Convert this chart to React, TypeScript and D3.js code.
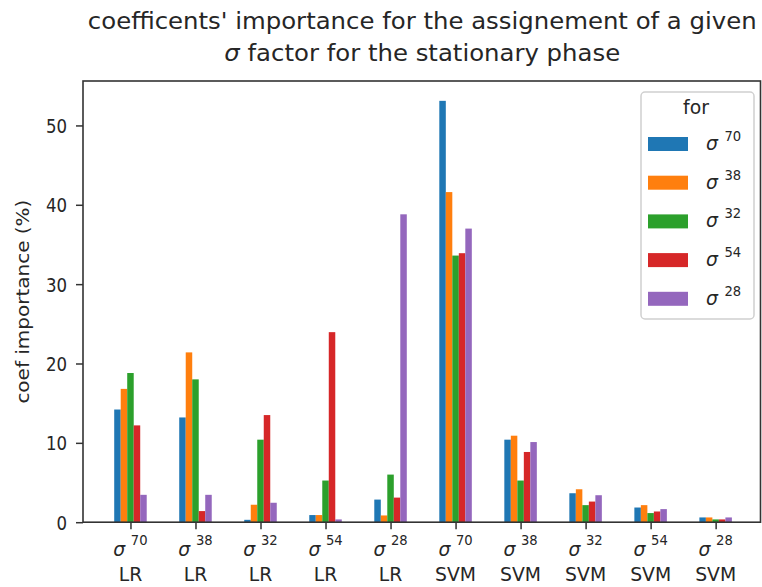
import React, { useEffect, useRef } from 'react';
import * as d3 from 'd3';

const sigmas = ['70', '38', '32', '54', '28'];
const models = ['LR', 'SVM'];
const colors = ['#1f77b4', '#ff7f0e', '#2ca02c', '#d62728', '#9467bd'];

// one array per legend entry, values along the 10 x categories
const s70 = [14.2, 13.2, 0.3, 0.9, 2.85, 53.1, 10.4, 3.65, 1.85, 0.6];
const s38 = [16.8, 21.4, 2.2, 0.9, 0.85, 41.6, 10.9, 4.15, 2.15, 0.6];
const s32 = [18.8, 18.0, 10.4, 5.25, 6.0, 33.6, 5.25, 2.15, 1.15, 0.35];
const s54 = [12.2, 1.4, 13.5, 23.95, 3.1, 33.9, 8.85, 2.6, 1.35, 0.35];
const s28 = [3.45, 3.45, 2.45, 0.35, 38.8, 37.0, 10.1, 3.4, 1.65, 0.6];
const series = [s70, s38, s32, s54, s28];

const yTicks = [0, 10, 20, 30, 40, 50];

const W = 762;
const H = 587;
const SX = 0.85; // tick labels look squeezed horizontally
const SXL = 0.94; // x labels / legend
const SXT = 1.06; // title

const App = () => {
  const ref = useRef(null);

  useEffect(() => {
    if (!ref.current) return;
    d3.select(ref.current).selectAll('*').remove();
    const svg = d3.select(ref.current)
      .append('svg')
      .attr('width', W)
      .attr('height', H)
      .style('position', 'absolute')
      .style('left', 0)
      .style('top', 0)
      .style('font-family', 'DejaVu Sans');

    const left = 83, right = 760.5, top = 81, bottom = 522.2;
    const cats = models.flatMap(m => sigmas.map(s => ({ s, m })));

    const x = d3.scaleLinear().domain([-0.73, 9.69]).range([left, right]);
    const y = d3.scaleLinear().domain([0, 55.6]).range([bottom, top]);
    const bw = x(0.1) - x(0);

    // bars
    series.forEach((vals, si) => {
      svg.append('g')
        .attr('fill', colors[si])
        .selectAll('rect')
        .data(vals)
        .join('rect')
        .attr('x', (d, i) => x(i + (si - 2) * 0.1) - bw / 2)
        .attr('width', bw)
        .attr('y', d => y(d))
        .attr('height', d => y(0) - y(d));
    });

    // y axis
    const yAxis = d3.axisLeft(y).tickValues(yTicks).tickSize(7).tickSizeOuter(0);
    const gy = svg.append('g').attr('transform', `translate(${left},0)`).call(yAxis);
    gy.select('.domain').remove();
    gy.selectAll('line').attr('stroke', '#333').attr('stroke-width', 1.5);
    gy.selectAll('text')
      .attr('x', 0)
      .attr('dy', '0.36em')
      .attr('transform', `translate(-16,0) scale(${SX},1)`)
      .attr('fill', '#262626')
      .style('font-size', '19.5px')
      .style('font-family', 'DejaVu Sans');

    // x axis
    const xAxis = d3.axisBottom(x).tickValues(d3.range(10)).tickSize(7).tickFormat(() => '');
    const gx = svg.append('g').attr('transform', `translate(0,${bottom})`).call(xAxis);
    gx.select('.domain').remove();
    gx.selectAll('line').attr('stroke', '#333').attr('stroke-width', 1.5);

    cats.forEach((c, i) => {
      const g = svg.append('g').attr('transform', `translate(${x(i)},0) scale(${SXL},1)`);
      const t = g.append('text')
        .attr('y', 556)
        .attr('text-anchor', 'middle')
        .attr('fill', '#262626')
        .style('font-size', '20px');
      t.append('tspan').style('font-style', 'italic').text('σ');
      t.append('tspan').attr('dx', 6).attr('dy', -11).style('font-size', '14px').text(c.s);
      g.append('text')
        .attr('y', 581.5)
        .attr('text-anchor', 'middle')
        .attr('fill', '#262626')
        .style('font-size', '20px')
        .text(c.m);
    });

    // frame
    svg.append('rect')
      .attr('x', left)
      .attr('y', top)
      .attr('width', right - left)
      .attr('height', bottom - top)
      .attr('fill', 'none')
      .attr('stroke', '#333')
      .attr('stroke-width', 1.6);

    // y label
    svg.append('text')
      .attr('transform', `translate(29,${(top + bottom) / 2}) rotate(-90) scale(1,${SX})`)
      .attr('text-anchor', 'middle')
      .attr('fill', '#262626')
      .style('font-size', '20px')
      .text('coef importance (%)');

    // title
    const cx = (left + right) / 2 + 0.5;
    svg.append('text')
      .attr('transform', `translate(${cx},29) scale(${SXT},1)`)
      .attr('text-anchor', 'middle')
      .attr('fill', '#262626')
      .style('font-size', '23px')
      .text("coefficents' importance for the assignement of a given");
    const t2 = svg.append('text')
      .attr('transform', `translate(${cx},61) scale(${SXT},1)`)
      .attr('text-anchor', 'middle')
      .attr('fill', '#262626')
      .style('font-size', '23px');
    t2.append('tspan').style('font-style', 'italic').text('σ');
    t2.append('tspan').text(' factor for the stationary phase');

    // legend
    const lg = svg.append('g');
    lg.append('rect')
      .attr('x', 641)
      .attr('y', 92)
      .attr('width', 113)
      .attr('height', 227)
      .attr('rx', 4)
      .attr('fill', 'white')
      .attr('fill-opacity', 0.8)
      .attr('stroke', '#d0d0d0')
      .attr('stroke-width', 1.5);
    lg.append('text')
      .attr('transform', `translate(696,114) scale(${SXL},1)`)
      .attr('text-anchor', 'middle')
      .attr('fill', '#262626')
      .style('font-size', '20px')
      .text('for');
    sigmas.forEach((s, k) => {
      const cy = 144 + k * 38.7;
      lg.append('rect')
        .attr('x', 648)
        .attr('y', cy - 7)
        .attr('width', 40)
        .attr('height', 14)
        .attr('fill', colors[k]);
      const t = lg.append('text')
        .attr('transform', `translate(706,${cy + 6}) scale(${SXL},1)`)
        .attr('fill', '#262626')
        .style('font-size', '20px');
      t.append('tspan').style('font-style', 'italic').text('σ');
      t.append('tspan').attr('dx', 7).attr('dy', -9).style('font-size', '14px').text(s);
    });
  }, []);

  return <div ref={ref}></div>;
};

export default App;
